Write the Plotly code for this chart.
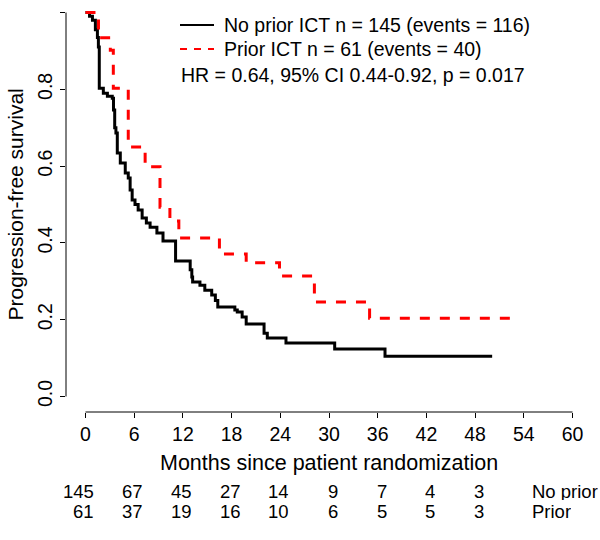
import plotly.graph_objects as go

# ---- data ----
no_prior_months = [0, 0.5, 0.86, 1.22, 1.47, 1.59, 1.7, 2.2, 2.7, 3.3,
                   3.45, 3.6, 3.75, 3.92, 4.29, 4.9, 5.27, 5.5, 5.75, 6.1,
                   6.49, 6.98, 7.5, 7.96, 8.8, 9.55, 11.1, 12.9, 13.1, 13.2,
                   14.1, 14.7, 15.55, 16.0, 16.3, 18.4, 18.7, 19.3, 19.8, 22.0,
                   22.4, 24.7, 30.7, 36.9, 50.1]
no_prior_surv = [1.0, 0.99, 0.98, 0.955, 0.935, 0.91, 0.803, 0.79, 0.782, 0.777,
                 0.746, 0.70, 0.686, 0.634, 0.608, 0.582, 0.569, 0.538, 0.512, 0.50,
                 0.486, 0.465, 0.452, 0.441, 0.426, 0.405, 0.353, 0.33, 0.311, 0.298,
                 0.29, 0.277, 0.264, 0.25, 0.233, 0.225, 0.22, 0.207, 0.189, 0.165,
                 0.152, 0.139, 0.124, 0.105, 0.105]

prior_months = [0, 1.6, 3.06, 3.43, 5.27, 7.35, 9.18, 10.4, 11.5, 16.5,
                19.8, 23.9, 28.2, 35.0, 53.0]
prior_surv = [1.0, 0.934, 0.902, 0.803, 0.65, 0.598, 0.493, 0.457, 0.413, 0.371,
              0.348, 0.314, 0.246, 0.204, 0.204]

x_ticks = [0, 6, 12, 18, 24, 30, 36, 42, 48, 54, 60]
y_ticks = [0.0, 0.2, 0.4, 0.6, 0.8, 1.0]

risk_times = [0, 6, 12, 18, 24, 30, 36, 42, 48]
risk_no_prior = [145, 67, 45, 27, 14, 9, 7, 4, 3]
risk_prior = [61, 37, 19, 16, 10, 6, 5, 5, 3]
risk_labels = ["No prior", "Prior"]

legend_labels = ["No prior ICT n = 145 (events = 116)",
                 "Prior ICT n = 61 (events = 40)"]
hr_text = "HR = 0.64, 95% CI 0.44-0.92, p = 0.017"
x_title = "Months since patient randomization"
y_title = "Progression-free survival"

FONT = "Liberation Sans, Arial, Helvetica, sans-serif"
W, H = 600, 540
L, R, T, B = 66, 8, 0, 128
PW = W - L - R
PH = H - T - B


def px_x(p):
    return (p - L) / PW


def px_y(p):
    return 1 - (p - T) / PH


fig = go.Figure()
fig.add_trace(go.Scatter(x=no_prior_months, y=no_prior_surv, mode="lines",
                         line=dict(shape="hv", color="black", width=3),
                         showlegend=False, hoverinfo="skip"))
fig.add_trace(go.Scatter(x=prior_months, y=prior_surv, mode="lines",
                         line=dict(shape="hv", color="#ff0000", width=3, dash="10px,10px"),
                         showlegend=False, hoverinfo="skip"))

shapes = [
    dict(type="line", xref="x", yref="paper", x0=x_ticks[0], x1=x_ticks[-1], y0=0, y1=0,
         line=dict(color="black", width=1)),
    dict(type="line", xref="paper", yref="y", x0=0, x1=0, y0=y_ticks[0], y1=y_ticks[-1],
         line=dict(color="black", width=1)),
    # legend samples
    dict(type="line", xref="paper", yref="paper", x0=px_x(180), x1=px_x(214),
         y0=px_y(25), y1=px_y(25), line=dict(color="black", width=2)),
    dict(type="line", xref="paper", yref="paper", x0=px_x(180), x1=px_x(214),
         y0=px_y(49), y1=px_y(49), line=dict(color="#ff0000", width=2, dash="7px,7px")),
]

FS = 19.5
FR = 18.5
ann = []
ann.append(dict(text=legend_labels[0], xref="paper", yref="paper", x=px_x(222), y=px_y(25),
                xanchor="left", yanchor="middle", showarrow=False, font=dict(size=FS)))
ann.append(dict(text=legend_labels[1], xref="paper", yref="paper", x=px_x(222), y=px_y(49),
                xanchor="left", yanchor="middle", showarrow=False, font=dict(size=FS)))
ann.append(dict(text=hr_text, xref="paper", yref="paper", x=px_x(179), y=px_y(75),
                xanchor="left", yanchor="middle", showarrow=False, font=dict(size=FS)))
ann.append(dict(text=x_title, xref="x", yref="paper", x=30, y=px_y(463),
                xanchor="center", yanchor="middle", showarrow=False, font=dict(size=21.5)))
ann.append(dict(text=y_title, xref="paper", yref="y", x=px_x(15), y=0.5, textangle=-90,
                xanchor="center", yanchor="middle", showarrow=False, font=dict(size=21)))
for t, a, b in zip(risk_times, risk_no_prior, risk_prior):
    ann.append(dict(text=str(a), xref="x", yref="paper", x=t, xshift=10, y=px_y(492),
                    xanchor="right", yanchor="middle", showarrow=False, height=17,
                    borderpad=0, font=dict(size=FR)))
    ann.append(dict(text=str(b), xref="x", yref="paper", x=t, xshift=10, y=px_y(511),
                    xanchor="right", yanchor="middle", showarrow=False, height=17,
                    borderpad=0, font=dict(size=FR)))
ann.append(dict(text=risk_labels[0], xref="paper", yref="paper", x=px_x(531), y=px_y(492),
                xanchor="left", yanchor="middle", showarrow=False, height=17,
                borderpad=0, font=dict(size=FR)))
ann.append(dict(text=risk_labels[1], xref="paper", yref="paper", x=px_x(531), y=px_y(511),
                xanchor="left", yanchor="middle", showarrow=False, height=17,
                borderpad=0, font=dict(size=FR)))

fig.update_layout(
    width=W, height=H,
    margin=dict(l=L, r=R, t=T, b=B, autoexpand=False),
    paper_bgcolor="white", plot_bgcolor="white",
    font=dict(family=FONT, size=FS, color="black"),
    shapes=shapes, annotations=ann,
    xaxis=dict(range=[-2.4, 62.4], tickvals=x_ticks, ticks="outside", ticklen=5,
               tickcolor="black", showgrid=False, zeroline=False, showline=False,
               automargin=False, tickfont=dict(size=FS)),
    yaxis=dict(range=[-0.0404, 1.0326], tickvals=y_ticks, tickformat=".1f",
               ticks="outside", ticklen=5, tickcolor="black", tickangle=-90,
               automargin=False,
               showgrid=False, zeroline=False, showline=False, tickfont=dict(size=FS)),
)

fig.write_html("out.html", config={"displayModeBar": False},
               post_script="document.body.style.margin='0';document.body.style.padding='0';")
